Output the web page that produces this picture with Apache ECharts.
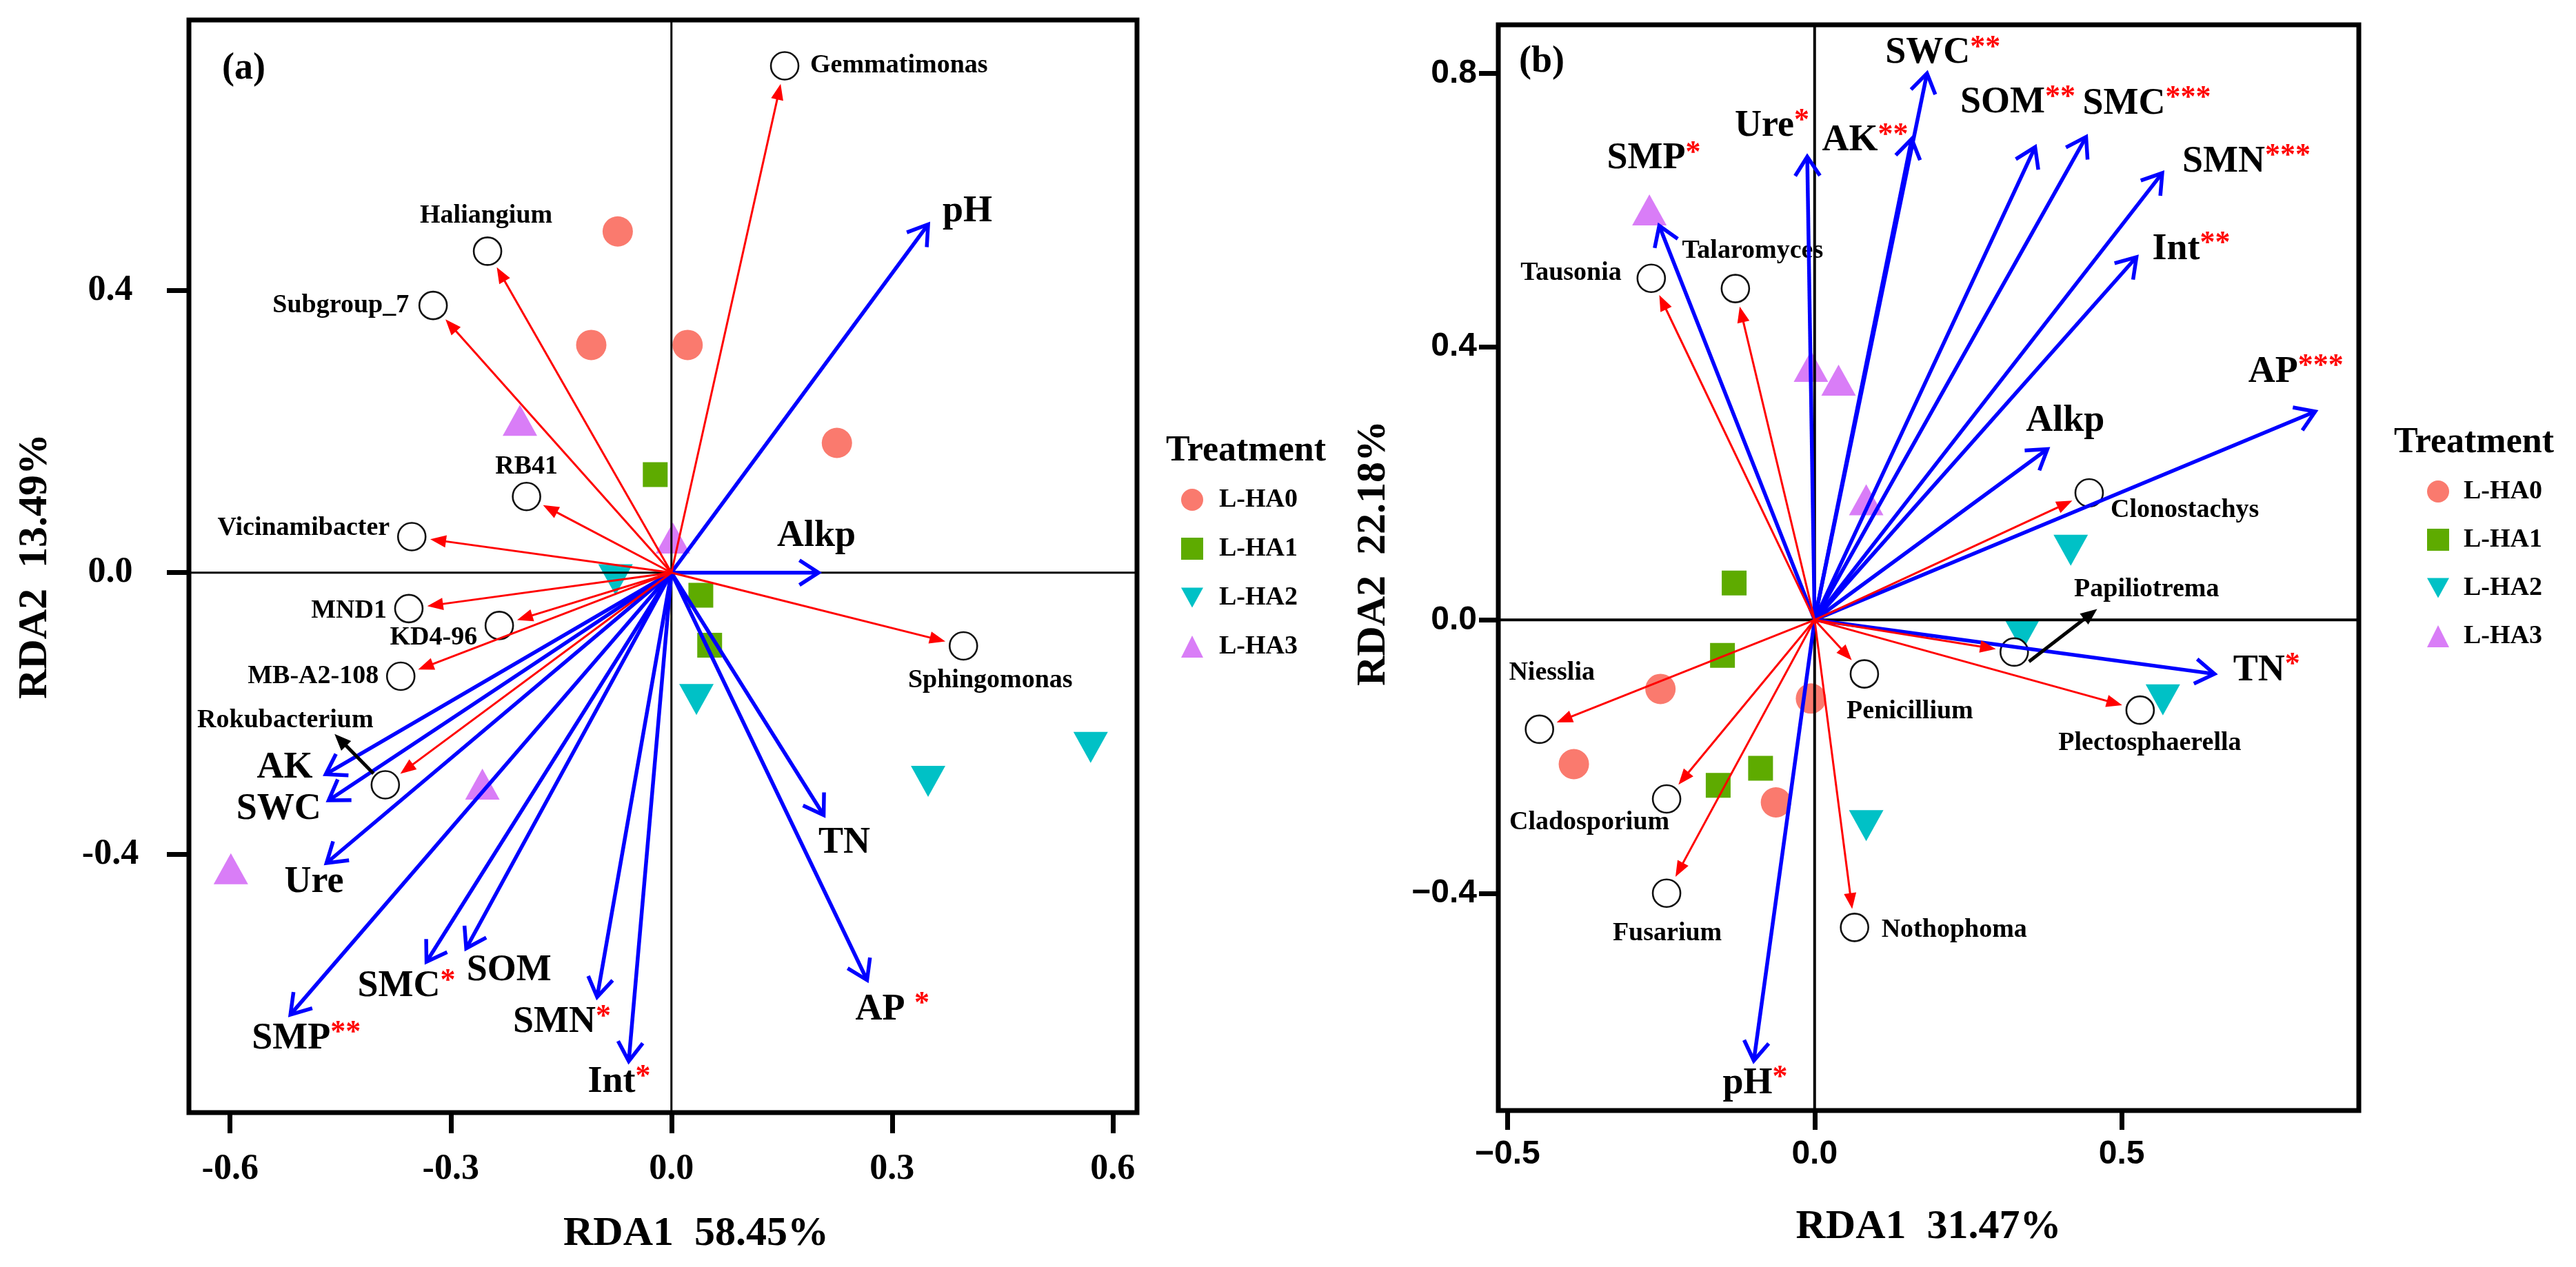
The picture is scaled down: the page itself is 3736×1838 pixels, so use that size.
<!DOCTYPE html>
<html><head><meta charset="utf-8">
<script src="https://cdn.jsdelivr.net/npm/echarts@6/dist/echarts.min.js"></script>
<style>html,body{margin:0;padding:0;background:#fff}#c{width:3736px;height:1838px}</style>
</head><body><div id="c"></div>
<script>
// ---------------- DATA ----------------
const treatments = ['L-HA0', 'L-HA1', 'L-HA2', 'L-HA3'];

// Panel (a) – bacteria
const a_HA0 = [[-0.073, 0.484], [-0.109, 0.323], [0.022, 0.323], [0.225, 0.184]];
const a_HA1 = [[-0.022, 0.139], [0.040, -0.032], [0.052, -0.103]];
const a_HA2 = [[-0.076, -0.010], [0.034, -0.180], [0.349, -0.296], [0.570, -0.248]];
const a_HA3 = [[-0.206, 0.216], [0.002, 0.049], [-0.257, -0.300], [-0.599, -0.420]];

const envA = ['pH', 'Alkp', 'TN', 'AP', 'Int', 'SMN', 'SOM', 'SMC', 'SMP', 'Ure', 'SWC', 'AK'];
const envA_x = [0.349, 0.200, 0.207, 0.266, -0.058, -0.101, -0.279, -0.333, -0.518, -0.469, -0.466, -0.470];
const envA_y = [0.494, 0.000, -0.344, -0.578, -0.693, -0.602, -0.533, -0.552, -0.627, -0.412, -0.323, -0.286];
const envA_sig = ['', '', '', '*', '*', '*', '', '*', '**', '', '', ''];

const taxaA = ['Gemmatimonas', 'Haliangium', 'Subgroup_7', 'RB41', 'Vicinamibacter', 'MND1', 'KD4-96', 'MB-A2-108', 'Rokubacterium', 'Sphingomonas'];
const taxaA_x = [0.154, -0.250, -0.324, -0.197, -0.353, -0.357, -0.234, -0.368, -0.389, 0.397];
const taxaA_y = [0.719, 0.456, 0.379, 0.108, 0.051, -0.051, -0.075, -0.147, -0.301, -0.104];
const blackA = [[-0.405, -0.285, -0.458, -0.229]];

const xTicksA = [-0.6, -0.3, 0, 0.3, 0.6];
const yTicksA = [-0.4, 0, 0.4];

// Panel (b) – fungi
const b_HA0 = [[-0.251, -0.101], [-0.392, -0.211], [-0.006, -0.115], [-0.063, -0.267]];
const b_HA1 = [[-0.131, 0.054], [-0.150, -0.052], [-0.088, -0.217], [-0.157, -0.242]];
const b_HA2 = [[0.417, 0.102], [0.338, -0.023], [0.567, -0.117], [0.084, -0.301]];
const b_HA3 = [[-0.269, 0.600], [-0.006, 0.371], [0.039, 0.351], [0.084, 0.176]];

const envB = ['SMP', 'Ure', 'AK', 'SWC', 'SOM', 'SMC', 'SMN', 'Int', 'AP', 'Alkp', 'TN', 'pH'];
const envB_x = [-0.253, -0.012, 0.158, 0.183, 0.359, 0.442, 0.566, 0.524, 0.815, 0.379, 0.651, -0.099];
const envB_y = [0.577, 0.678, 0.704, 0.800, 0.692, 0.707, 0.654, 0.531, 0.305, 0.250, -0.079, -0.645];
const envB_sig = ['*', '*', '**', '**', '**', '***', '***', '**', '***', '', '*', '*'];

const taxaB = ['Tausonia', 'Talaromyces', 'Clonostachys', 'Papiliotrema', 'Plectosphaerella', 'Penicillium', 'Nothophoma', 'Fusarium', 'Cladosporium', 'Niesslia'];
const taxaB_x = [-0.266, -0.129, 0.447, 0.325, 0.530, 0.081, 0.065, -0.241, -0.241, -0.448];
const taxaB_y = [0.500, 0.485, 0.186, -0.047, -0.132, -0.079, -0.450, -0.400, -0.262, -0.160];
const blackB = [[0.349, -0.061, 0.460, 0.016]];

const xTicksB = [-0.5, 0, 0.5];
const yTicksB = [-0.4, 0, 0.4, 0.8];

// ---------------- STYLE ----------------
const SERIF = '"Liberation Serif","Times New Roman",serif';
const SANS = '"Liberation Sans",Arial,sans-serif';
const BLUE = '#0000FF', RED = '#FF0000';
const colors = ['#FA7A6E', '#5EAB00', '#00C1C6', '#D97DF7'];
const symbols = ['circle', 'rect', 'path://M0,0L20,0L10,18Z', 'triangle'];
const symSizes = [44, 36, [50, 45], [50, 45]];

// label placement: [align, dx(px), dy(px), separator]
const placeEnvA = {pH:['left',21,-19], Alkp:['center',-3,-53], TN:['center',30,41], AP:['left',-17,43,' '],
  Int:['center',-14,31], SMN:['center',-51,37], SOM:['center',62,32], SMC:['center',-29,36],
  SMP:['center',23,35], Ure:['center',-18,28], SWC:['right',-11,13], AK:['right',-19,-9]};
const placeEnvB = {SMP:['center',-8,-97], Ure:['center',-51,-44], AK:['right',-5,3], SWC:['center',23,-29],
  SOM:['center',-25,-64], SMC:['left',-5,-48], SMN:['left',29,-16], Int:['left',23,-11],
  AP:['center',-28,-57], Alkp:['center',26,-40], TN:['left',27,-5], pH:['center',2,33]};
const placeTaxaA = {Gemmatimonas:['left',37,0], Haliangium:['center',-2,-51], Subgroup_7:['right',-35,0],
  RB41:['center',0,-43], Vicinamibacter:['right',-32,-12], MND1:['right',-32,3], 'KD4-96':['right',-32,18],
  'MB-A2-108':['right',-32,0], Rokubacterium:['center',-145,-93], Sphingomonas:['center',39,50]};
const placeTaxaB = {Tausonia:['right',-43,-8], Talaromyces:['center',25,-54], Clonostachys:['left',31,25],
  Papiliotrema:['center',192,-91], Plectosphaerella:['center',14,48], Penicillium:['center',66,55],
  Nothophoma:['left',39,4], Fusarium:['center',1,58], Cladosporium:['center',-112,34], Niesslia:['center',18,-82]};

// ---------------- SERIES BUILDERS ----------------
function sampleSeries(sets, g) {
  return treatments.map((t, i) => ({
    type: 'scatter', name: t, xAxisIndex: g, yAxisIndex: g, data: sets[i],
    symbol: symbols[i], symbolSize: symSizes[i], itemStyle: {color: colors[i], opacity: 1},
    z: 2, silent: true, emphasis: {disabled: true}
  }));
}
function zeroSeries(g, w) {
  return {type: 'custom', xAxisIndex: g, yAxisIndex: g, data: [[0, 0]], z: 3, silent: true,
    renderItem(params, api) {
      const cs = params.coordSys, o = api.coord([0, 0]);
      return {type: 'group', children: [
        {type: 'line', shape: {x1: cs.x, y1: o[1], x2: cs.x + cs.width, y2: o[1]}, style: {stroke: '#000', lineWidth: w}},
        {type: 'line', shape: {x1: o[0], y1: cs.y, x2: o[0], y2: cs.y + cs.height}, style: {stroke: '#000', lineWidth: w}}
      ]};
    }};
}
function envSeries(g, xs, ys, names, sigs, place) {
  return {type: 'custom', xAxisIndex: g, yAxisIndex: g, z: 5, silent: true,
    data: xs.map((x, i) => [x, ys[i], i]),
    renderItem(params, api) {
      const i = api.value(2);
      const o = api.coord([0, 0]), t = api.coord([api.value(0), api.value(1)]);
      const dx = t[0] - o[0], dy = t[1] - o[1], L = Math.hypot(dx, dy);
      const bx = -dx / L, by = -dy / L, ang = 33 * Math.PI / 180, arm = 33;
      const rot = a => [bx * Math.cos(a) - by * Math.sin(a), bx * Math.sin(a) + by * Math.cos(a)];
      const r1 = rot(ang), r2 = rot(-ang);
      const p = place[names[i]];
      const txt = '{n|' + names[i] + (p[3] || '') + '}' + (sigs[i] ? '{s|' + sigs[i] + '}' : '');
      return {type: 'group', children: [
        {type: 'line', shape: {x1: o[0], y1: o[1], x2: t[0], y2: t[1]}, style: {stroke: BLUE, lineWidth: 5.5}},
        {type: 'polyline', shape: {points: [[t[0] + r1[0] * arm, t[1] + r1[1] * arm], [t[0], t[1]], [t[0] + r2[0] * arm, t[1] + r2[1] * arm]]},
          style: {stroke: BLUE, lineWidth: 5.5, fill: 'none'}},
        {type: 'text', x: t[0] + p[1], y: t[1] + p[2], z2: 20, style: {
          text: txt, align: p[0], verticalAlign: 'middle',
          fontFamily: SERIF, fontWeight: 'bold', fontSize: 54, fill: '#000',
          rich: {
            n: {fontFamily: SERIF, fontWeight: 'bold', fontSize: 54, lineHeight: 60, fill: '#000', color: '#000'},
            s: {fontFamily: SERIF, fontWeight: 'bold', fontSize: 44, lineHeight: 44, verticalAlign: 'top', fill: RED, color: RED}
          }}}
      ]};
    }};
}
function taxaArrowSeries(g, xs, ys) {
  return {type: 'custom', xAxisIndex: g, yAxisIndex: g, z: 6, silent: true,
    data: xs.map((x, i) => [x, ys[i]]),
    renderItem(params, api) {
      const o = api.coord([0, 0]), c = api.coord([api.value(0), api.value(1)]);
      const dx = c[0] - o[0], dy = c[1] - o[1], L = Math.hypot(dx, dy), ux = dx / L, uy = dy / L;
      const tip = [c[0] - ux * 27, c[1] - uy * 27], hl = 23, hw = 9;
      const base = [tip[0] - ux * hl, tip[1] - uy * hl];
      return {type: 'group', children: [
        {type: 'line', shape: {x1: o[0], y1: o[1], x2: base[0] + ux * 4, y2: base[1] + uy * 4}, style: {stroke: RED, lineWidth: 3}},
        {type: 'polygon', shape: {points: [tip, [base[0] - uy * hw, base[1] + ux * hw], [base[0] + uy * hw, base[1] - ux * hw]]}, style: {fill: RED}}
      ]};
    }};
}
function taxaSeries(g, xs, ys, names, place) {
  return {type: 'custom', xAxisIndex: g, yAxisIndex: g, z: 4, silent: true,
    data: xs.map((x, i) => [x, ys[i], i]),
    renderItem(params, api) {
      const i = api.value(2), c = api.coord([api.value(0), api.value(1)]), p = place[names[i]];
      return {type: 'group', children: [
        {type: 'circle', shape: {cx: c[0], cy: c[1], r: 20}, style: {fill: '#fff', stroke: '#111', lineWidth: 2.6}},
        {type: 'text', x: c[0] + p[1], y: c[1] + p[2], style: {text: names[i], align: p[0], verticalAlign: 'middle',
          fontFamily: SERIF, fontWeight: 'bold', fontSize: 38, fill: '#000'}}
      ]};
    }};
}
function blackArrowSeries(g, arr) {
  return {type: 'custom', xAxisIndex: g, yAxisIndex: g, z: 6, silent: true, data: arr,
    renderItem(params, api) {
      const s = api.coord([api.value(0), api.value(1)]), t = api.coord([api.value(2), api.value(3)]);
      const dx = t[0] - s[0], dy = t[1] - s[1], L = Math.hypot(dx, dy), ux = dx / L, uy = dy / L;
      const hl = 24, hw = 10, base = [t[0] - ux * hl, t[1] - uy * hl];
      return {type: 'group', children: [
        {type: 'line', shape: {x1: s[0], y1: s[1], x2: base[0] + ux * 4, y2: base[1] + uy * 4}, style: {stroke: '#000', lineWidth: 5}},
        {type: 'polygon', shape: {points: [t, [base[0] - uy * hw, base[1] + ux * hw], [base[0] + uy * hw, base[1] - ux * hw]]}, style: {fill: '#000'}}
      ]};
    }};
}

const fmtA = v => v.toFixed(1);
const fmtB = v => (v < 0 ? '\u2212' + (-v).toFixed(1) : v.toFixed(1));
const nameStyle = {fontFamily: SERIF, fontWeight: 'bold', fontSize: 60, lineHeight: 60, color: '#000'};

function xAxisCfg(g, min, max, ticks, fmt, font, fs, margin, tlen, name, gap, pad) {
  return {type: 'value', gridIndex: g, min, max, splitLine: {show: false}, axisLine: {show: false, onZero: false},
    axisTick: {show: true, length: tlen, customValues: ticks, lineStyle: {width: 7, color: '#000'}},
    axisLabel: {customValues: ticks, formatter: fmt, margin, fontFamily: font, fontWeight: 'bold', fontSize: fs, lineHeight: fs, color: '#000'},
    name, nameLocation: 'middle', nameGap: gap, nameTextStyle: Object.assign({padding: pad}, nameStyle)};
}

const option = {
  animation: false,
  backgroundColor: '#fff',
  grid: [
    {left: 274, top: 29, width: 1375, height: 1585, show: true, borderColor: '#000', borderWidth: 7, backgroundColor: 'transparent'},
    {left: 2173, top: 36, width: 1248, height: 1575, show: true, borderColor: '#000', borderWidth: 7, backgroundColor: 'transparent'}
  ],
  xAxis: [
    xAxisCfg(0, -0.656, 0.633, xTicksA, fmtA, SERIF, 52, 57, 30, 'RDA1  58.45%', 146, [0, 0, 0, 96]),
    xAxisCfg(1, -0.515, 0.886, xTicksB, fmtB, SANS, 48, 40, 28, 'RDA1  31.47%', 139, [0, 0, 0, 0])
  ],
  yAxis: [
    {type: 'value', gridIndex: 0, min: -0.766, max: 0.784, splitLine: {show: false}, axisLine: {show: false, onZero: false},
      axisTick: {show: true, length: 32, customValues: yTicksA, lineStyle: {width: 7, color: '#000'}},
      axisLabel: {customValues: yTicksA, formatter: fmtA, margin: 114, align: 'center', fontFamily: SERIF, fontWeight: 'bold', fontSize: 52, color: '#000'},
      name: 'RDA2  13.49%', nameLocation: 'middle', nameGap: 193, nameTextStyle: nameStyle},
    {type: 'value', gridIndex: 1, min: -0.718, max: 0.871, splitLine: {show: false}, axisLine: {show: false, onZero: false},
      axisTick: {show: true, length: 28, customValues: yTicksB, lineStyle: {width: 7, color: '#000'}},
      axisLabel: {customValues: yTicksB, formatter: fmtB, margin: 31, fontFamily: SANS, fontWeight: 'bold', fontSize: 48, color: '#000'},
      name: 'RDA2  22.18%', nameLocation: 'middle', nameGap: 151, nameTextStyle: Object.assign({padding: [0, 0, 0, 42]}, nameStyle)}
  ],
  title: [
    {text: '(a)', left: 322, top: 73, padding: 0, textStyle: {fontFamily: SERIF, fontWeight: 'bold', fontSize: 54, lineHeight: 54, color: '#000'}},
    {text: '(b)', left: 2203, top: 63, padding: 0, textStyle: {fontFamily: SERIF, fontWeight: 'bold', fontSize: 54, lineHeight: 54, color: '#000'}},
    {text: 'Treatment', left: 1691, top: 629, padding: 0, textStyle: {fontFamily: SERIF, fontWeight: 'bold', fontSize: 52, lineHeight: 52, color: '#000'}},
    {text: 'Treatment', left: 3472, top: 617, padding: 0, textStyle: {fontFamily: SERIF, fontWeight: 'bold', fontSize: 52, lineHeight: 52, color: '#000'}}
  ],
  legend: [
    {data: treatments, orient: 'vertical', left: 1713, top: 706, padding: 0, itemWidth: 32, itemHeight: 32, itemGap: 33, selectedMode: false,
      textStyle: {fontFamily: SERIF, fontWeight: 'bold', fontSize: 38, lineHeight: 38, color: '#000', padding: [0, 0, 0, 18]}},
    {data: treatments, orient: 'vertical', left: 3520, top: 694, padding: 0, itemWidth: 32, itemHeight: 32, itemGap: 32, selectedMode: false,
      textStyle: {fontFamily: SERIF, fontWeight: 'bold', fontSize: 38, lineHeight: 38, color: '#000', padding: [0, 0, 0, 16]}}
  ],
  series: [].concat(
    sampleSeries([a_HA0, a_HA1, a_HA2, a_HA3], 0),
    sampleSeries([b_HA0, b_HA1, b_HA2, b_HA3], 1),
    [zeroSeries(0, 3), zeroSeries(1, 4),
     taxaSeries(0, taxaA_x, taxaA_y, taxaA, placeTaxaA),
     taxaSeries(1, taxaB_x, taxaB_y, taxaB, placeTaxaB),
     envSeries(0, envA_x, envA_y, envA, envA_sig, placeEnvA),
     envSeries(1, envB_x, envB_y, envB, envB_sig, placeEnvB),
     taxaArrowSeries(0, taxaA_x, taxaA_y),
     taxaArrowSeries(1, taxaB_x, taxaB_y),
     blackArrowSeries(0, blackA),
     blackArrowSeries(1, blackB)]
  )
};

const chart = echarts.init(document.getElementById('c'), null, {renderer: 'canvas'});
chart.setOption(option);
</script></body></html>
